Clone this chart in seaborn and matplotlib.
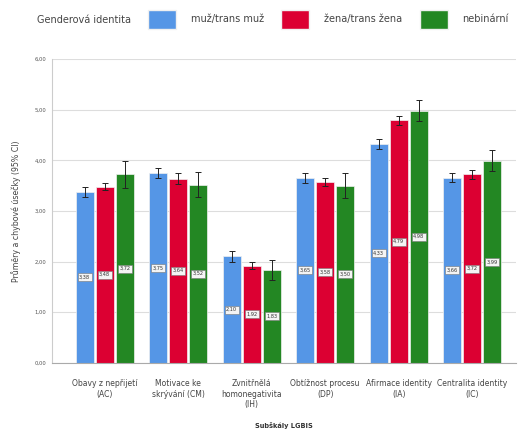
import pandas as pd
import numpy as np
import matplotlib.pyplot as plt
import seaborn as sns
from matplotlib.patches import Patch

# subscales and gender groups
subscales = ["Obavy z nepřijetí\n(AC)", "Motivace ke\nskrývání (CM)", "Zvnitřnělá\nhomonegativita\n(IH)",
             "Obtížnost procesu\n(DP)", "Afirmace identity\n(IA)", "Centralita identity\n(IC)"]
groups = ["muž/trans muž", "žena/trans žena", "nebinární"]

# means
muz = [3.38, 3.75, 2.10, 3.65, 4.33, 3.66]
zena = [3.48, 3.64, 1.92, 3.58, 4.79, 3.72]
nebin = [3.72, 3.52, 1.83, 3.50, 4.98, 3.99]

# half width of 95% CI
ci_muz = [0.10, 0.10, 0.10, 0.10, 0.10, 0.09]
ci_zena = [0.07, 0.10, 0.07, 0.08, 0.09, 0.08]
ci_nebin = [0.27, 0.25, 0.20, 0.25, 0.21, 0.21]

colors = ["#5596E6", "#DC0032", "#238723"]

df = pd.DataFrame({
    "subscale": subscales * 3,
    "group": [groups[0]] * 6 + [groups[1]] * 6 + [groups[2]] * 6,
    "mean": muz + zena + nebin,
})
cis = [ci_muz, ci_zena, ci_nebin]
means = [muz, zena, nebin]

sns.set_style("white")
fig = plt.figure(figsize=(5.28, 4.34), dpi=100)
ax = fig.add_axes([0.098, 0.164, 0.88, 0.7])

sns.barplot(data=df, x="subscale", y="mean", hue="group", palette=colors, saturation=1,
            width=0.82, gap=0.1, errorbar=None, edgecolor="#f0f0f0", linewidth=0.5,
            ax=ax, legend=False, zorder=2)

bar_conts = list(ax.containers)[:3]
for i, cont in enumerate(bar_conts):
    xs = [b.get_x() + b.get_width() / 2 for b in cont]
    ax.errorbar(xs, means[i], yerr=cis[i], fmt="none", ecolor="#222222",
                elinewidth=0.7, capsize=2, capthick=0.7, zorder=3)
    for x, v in zip(xs, means[i]):
        ax.text(x, v / 2, f"{v:.2f}".replace(".", ","), ha="center", va="center",
                fontsize=3.6, color="#333333", zorder=4,
                bbox=dict(boxstyle="square,pad=0.3", fc="#f4f4f4", ec="#777777", lw=0.4))

ax.set_ylim(0, 6)
ax.set_xlim(-0.72, 5.6)
yt = np.arange(0, 7)
ax.set_yticks(yt)
ax.set_yticklabels([f"{t:.2f}".replace(".", ",") for t in yt], fontsize=3.8, color="#555555")
ax.tick_params(axis="x", labelsize=5.5, colors="#444444", length=0, pad=12)
ax.tick_params(axis="y", length=0, pad=4)
ax.yaxis.grid(True, color="#dddddd", lw=0.8, zorder=0)
ax.set_axisbelow(True)
for s in ["top", "right"]:
    ax.spines[s].set_visible(False)
ax.spines["left"].set_color("#cccccc")
ax.spines["bottom"].set_color("#aaaaaa")
ax.set_xlabel("Subškály LGBIS", fontsize=4.8, fontweight="bold", color="#333333", labelpad=9)
ax.set_ylabel("Průměry a chybové úsečky (95% CI)", fontsize=5.7, color="#444444", labelpad=10)

# legend along the top
handles = [Patch(facecolor=c, edgecolor="#f0f0f0") for c in colors]
fig.text(0.07, 0.955, "Genderová identita", fontsize=7, color="#444444", va="center")
fig.legend(handles, groups, loc="center left", bbox_to_anchor=(0.28, 0.955), ncol=3,
           frameon=False, fontsize=7, handlelength=2.9, handleheight=2.6,
           columnspacing=1.8, handletextpad=1.5, labelcolor="#444444",
           borderaxespad=0, borderpad=0)

plt.savefig("out.png", dpi=100)
